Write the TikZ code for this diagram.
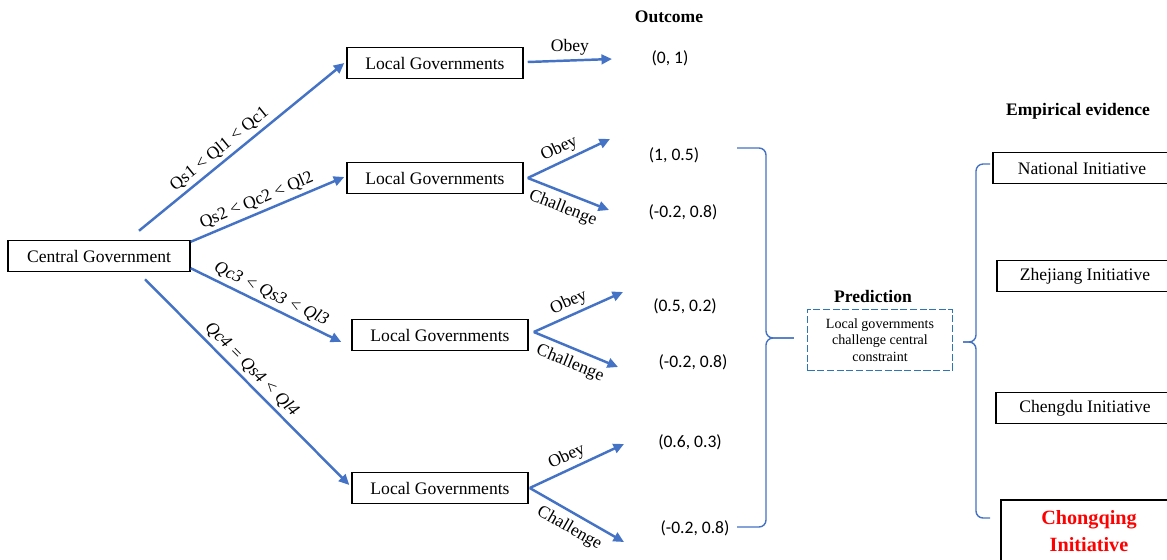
\documentclass[tikz,border=0pt]{standalone}
\usepackage{fontspec}
\setmainfont{Liberation Serif}
\newfontfamily\calibri{Carlito}
\usetikzlibrary{arrows.meta,calc}
\definecolor{tblue}{HTML}{4472C4}
\definecolor{dblue}{HTML}{2E75B6}
\definecolor{cqred}{HTML}{FF0000}

\begin{document}
\begin{tikzpicture}[
  x=0.02cm, y=-0.02cm,
  box/.style={draw,line width=0.85pt,minimum width=3.52cm,minimum height=0.62cm,inner sep=2pt,font=\fontsize{10}{12}\selectfont},
  branch/.style={tblue,line width=1.4pt,-{Triangle[length=6pt,width=5.5pt]}},
  lbl/.style={text=black,inner sep=2pt,font=\fontsize{10}{12}\selectfont},
  outcome/.style={font=\calibri\fontsize{10}{12}\selectfont},
  head/.style={font=\bfseries\fontsize{10}{12}\selectfont},
  brace/.style={tblue,line width=0.8pt,rounded corners=4pt}
]
  \clip (0,0) rectangle (1167,559);
  \node[box,minimum width=3.64cm] (cg) at (99,256) {Central Government};
  \node[box] (lg1) at (435,63) {Local Governments};
  \node[box] (lg2) at (435,178) {Local Governments};
  \node[box] (lg3) at (440,335) {Local Governments};
  \node[box] (lg4) at (440,488) {Local Governments};
  \node[head] (outhead) at (669,17) {Outcome};
  \node[outcome] (o1) at (670,58) {(0, 1)};
  \node[outcome] (o2) at (674,155) {(1, 0.5)};
  \node[outcome] (o3) at (683,212) {(-0.2, 0.8)};
  \node[outcome] (o4) at (685,306) {(0.5, 0.2)};
  \node[outcome] (o5) at (693,362) {(-0.2, 0.8)};
  \node[outcome] (o6) at (690,442) {(0.6, 0.3)};
  \node[outcome] (o7) at (695,528) {(-0.2, 0.8)};
  \node[head] (predhead) at (873,296) {Prediction};
  \node[draw=dblue,dashed,dash pattern=on 4pt off 1.5pt,line width=0.8pt,minimum width=2.9cm,minimum height=1.22cm,inner sep=1pt,align=center,font=\fontsize{8}{9.4}\selectfont] (pred) at (880,340) {Local governments\\challenge central\\constraint};
  \node[head] (evhead) at (1078,111) {Empirical evidence};
  \node[box,minimum width=3.56cm] (nat) at (1082,168) {National Initiative};
  \node[box] (zj) at (1085,276) {Zhejiang Initiative};
  \node[box,minimum width=3.56cm] (cd) at (1085,408) {Chengdu Initiative};
  \node[box,minimum height=1.24cm,align=center,text=cqred,font=\bfseries\fontsize{11.5}{15}\selectfont] (cq) at (1089,531) {Chongqing\\Initiative};
  \coordinate (a1) at ($(lg1.east)+(4,-1)$);
  \coordinate (a2) at ($(lg2.east)+(4,0)$);
  \coordinate (a3) at ($(lg3.east)+(5,-3)$);
  \coordinate (a4) at ($(lg4.east)+(1,0)$);
  \coordinate (e1) at (612,59);
  \coordinate (e2a) at (610,139);
  \coordinate (e2b) at (609,210);
  \coordinate (e3a) at (623,292);
  \coordinate (e3b) at (618,367);
  \coordinate (e4a) at (624,444);
  \coordinate (e4b) at (624,542);
  \draw[branch] ($(cg.north)+(40,-9)$) -- node[lbl,sloped,above,pos=0.43] {Qs1 {\textless} Ql1 {\textless} Qc1} ($(lg1.west)+(-2,0)$);
  \draw[branch] ($(cg.north east)+(0,2)$) -- node[lbl,sloped,above,pos=0.46] {Qs2 {\textless} Qc2 {\textless} Ql2} ($(lg2.west)+(-2,-1)$);
  \draw[branch] ($(cg.south east)+(0,-4)$) -- node[lbl,sloped,above,pos=0.5,font=\itshape\fontsize{10}{12}\selectfont] {Qc3 {\textless} Qs3 {\textless} Ql3} ($(lg3.west)+(-10,7)$);
  \draw[branch] ($(cg.south)+(46,7)$) -- node[lbl,sloped,above,pos=0.48,font=\itshape\fontsize{10}{12}\selectfont] {Qc4 = Qs4 {\textless} Ql4} ($(lg4.west)+(-2,-3)$);
  \draw[branch] (a1) -- node[lbl,above] {Obey} (e1);
  \draw[branch] (a2) -- node[lbl,sloped,above,pos=0.45] {Obey} (e2a);
  \draw[branch] (a2) -- node[lbl,sloped,below,pos=0.5,inner sep=3.5pt] {Challenge} (e2b);
  \draw[branch] (a3) -- node[lbl,sloped,above,pos=0.45] {Obey} (e3a);
  \draw[branch] (a3) -- node[lbl,sloped,below,pos=0.5,inner sep=3.5pt] {Challenge} (e3b);
  \draw[branch] (a4) -- node[lbl,sloped,above,pos=0.45] {Obey} (e4a);
  \draw[branch] (a4) -- node[lbl,sloped,below,pos=0.5,inner sep=3.5pt] {Challenge} (e4b);
  \coordinate (b1t) at (737,148);
  \coordinate (b1b) at (737,527);
  \coordinate (b1tip) at ($(pred.west)+(-13,-2)$);
  \coordinate (b2t) at (990,164);
  \coordinate (b2b) at (990,518);
  \coordinate (b2tip) at ($(pred.east)+(10,2)$);
  \draw[brace] (b1t) -| (766,338) -- (b1tip);
  \draw[brace] (b1b) -| (766,338) -- (b1tip);
  \draw[brace] (b2t) -| (976,342) -- (b2tip);
  \draw[brace] (b2b) -| (976,342) -- (b2tip);
\end{tikzpicture}
\end{document}
